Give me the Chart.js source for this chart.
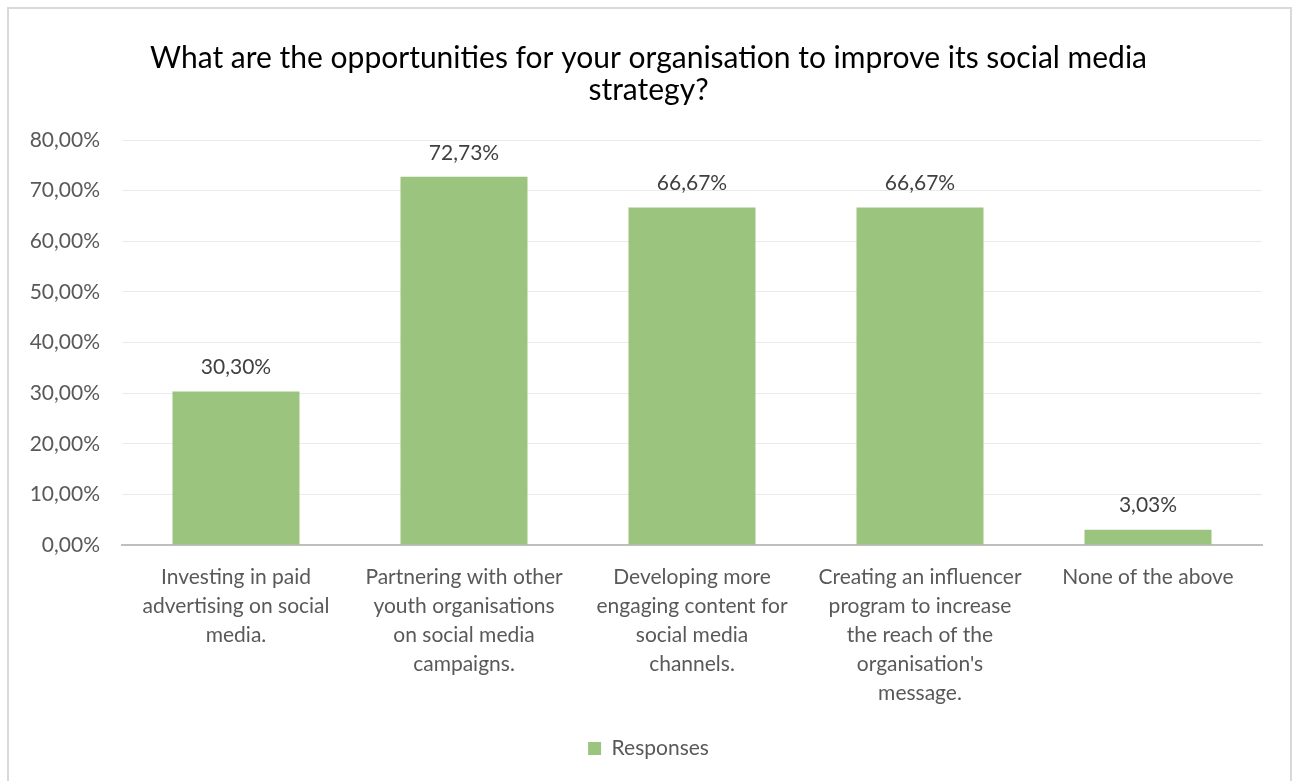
<!DOCTYPE html>
<html>
<head>
<meta charset="utf-8">
<script src="https://cdn.jsdelivr.net/npm/chart.js@4/dist/chart.umd.min.js"></script>
<style>
  html, body { margin: 0; padding: 0; background: #fff; }
  #wrap { position: relative; width: 1297px; height: 781px; overflow: hidden; }
  #frame { position: absolute; left: 7px; top: 7px; width: 1281px; height: 790px; border: 2px solid #d9d9d9; pointer-events: none; }
  canvas { position: absolute; left: 0; top: 0; }
</style>
</head>
<body>
<div id="wrap">
  <canvas id="c" width="1297" height="781"></canvas>
  <div id="frame"></div>
</div>
<script>
const titleLines = ["What are the opportunities for your organisation to improve its social media", "strategy?"];
const categories = [
  ["Investing in paid", "advertising on social", "media."],
  ["Partnering with other", "youth organisations", "on social media", "campaigns."],
  ["Developing more", "engaging content for", "social media", "channels."],
  ["Creating an influencer", "program to increase", "the reach of the", "organisation's", "message."],
  ["None of the above"]
];
const seriesName = "Responses";
const responses = [30.30, 72.73, 66.67, 66.67, 3.03];
const yMin = 0, yMax = 80, yStep = 10;

const fmt = v => v.toFixed(2).replace('.', ',') + '%';
const FONT = "Lato, 'Open Sans', sans-serif";
const GREEN = '#9BC47E';

const valueLabels = {
  id: 'valueLabels',
  afterDatasetsDraw(chart) {
    const ctx = chart.ctx;
    const meta = chart.getDatasetMeta(0);
    ctx.save();
    ctx.font = "21px " + FONT;
    ctx.fillStyle = '#404040';
    ctx.textAlign = 'center';
    ctx.textBaseline = 'middle';
    meta.data.forEach((bar, i) => {
      ctx.fillText(fmt(chart.data.datasets[0].data[i]), bar.x, bar.y - 24);
    });
    ctx.restore();
  }
};

new Chart(document.getElementById('c'), {
  type: 'bar',
  data: {
    labels: categories,
    datasets: [{
      label: seriesName,
      data: responses,
      backgroundColor: GREEN,
      borderWidth: 0,
      barPercentage: 0.557,
      categoryPercentage: 1.0
    }]
  },
  options: {
    responsive: false,
    animation: false,
    events: [],
    layout: { padding: { left: 0, right: 0, top: 0, bottom: 12 } },
    plugins: {
      title: {
        display: true,
        text: titleLines,
        color: '#000000',
        font: { family: FONT, size: 30, weight: 'normal', lineHeight: '32px' },
        padding: { top: 42, bottom: 34 }
      },
      legend: {
        display: true,
        position: 'bottom',
        labels: {
          color: '#595959',
          font: { family: FONT, size: 21 },
          boxWidth: 13,
          boxHeight: 13,
          padding: 8
        }
      },
      tooltip: { enabled: false }
    },
    scales: {
      x: {
        grid: { display: false, drawTicks: false },
        border: { display: true, color: '#bfbfbf', width: 2 },
        ticks: {
          color: '#595959',
          font: { family: FONT, size: 21, lineHeight: '29px' },
          padding: 18,
          autoSkip: false,
          maxRotation: 0,
          minRotation: 0
        },
        afterFit(scale) { scale.height = 185; }
      },
      y: {
        min: yMin,
        max: yMax,
        grid: { color: '#ebebeb', lineWidth: 1, drawTicks: false },
        border: { display: false },
        ticks: {
          stepSize: yStep,
          color: '#595959',
          font: { family: FONT, size: 21 },
          padding: 22,
          callback: v => fmt(v)
        },
        afterFit(scale) { scale.width = 122; }
      },
      yRightSpacer: {
        position: 'right',
        display: true,
        min: yMin,
        max: yMax,
        grid: { display: false, drawTicks: false },
        border: { display: false },
        ticks: { display: false },
        afterFit(scale) { scale.width = 35; }
      }
    }
  },
  plugins: [valueLabels]
});
</script>
</body>
</html>
